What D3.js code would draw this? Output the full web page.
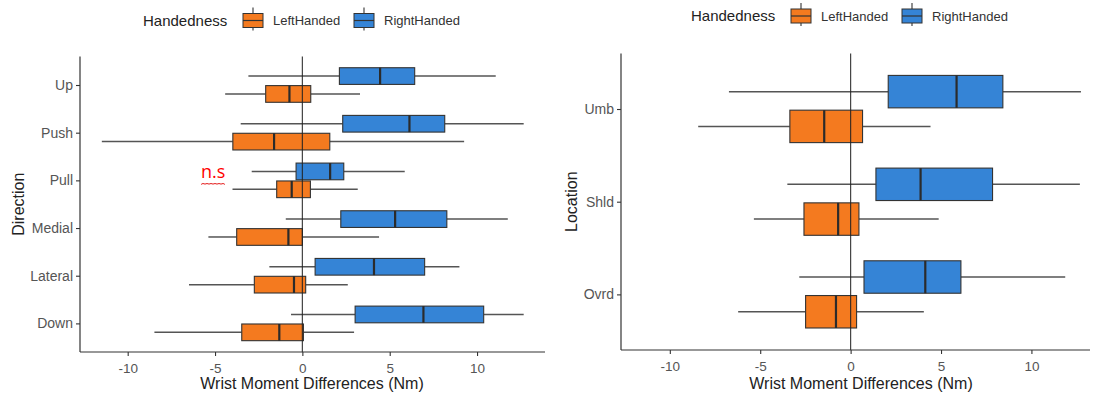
<!DOCTYPE html>
<html>
<head>
<meta charset="utf-8">
<script src="https://cdn.jsdelivr.net/npm/d3@7"></script>
<style>
  html, body { margin: 0; padding: 0; background: #fff; }
  svg { display: block; font-family: "Liberation Sans", Arial, sans-serif; }
</style>
</head>
<body>
<svg id="chart" width="1093" height="396"></svg>
<script>
// Five-number summaries: [lower whisker, Q1, median, Q3, upper whisker]
const directionCategories = ["Up", "Push", "Pull", "Medial", "Lateral", "Down"];
const directionLeft = [
  [-4.42, -2.10, -0.74, 0.48, 3.30],
  [-11.48, -3.98, -1.62, 1.57, 9.26],
  [-4.00, -1.47, -0.61, 0.46, 3.17],
  [-5.38, -3.76, -0.80, 0.00, 4.39],
  [-6.49, -2.75, -0.48, 0.19, 2.60],
  [-8.47, -3.47, -1.32, 0.06, 2.96]
];
const directionRight = [
  [-3.09, 2.12, 4.45, 6.43, 11.07],
  [-3.53, 2.31, 6.13, 8.15, 12.67],
  [-2.90, -0.36, 1.59, 2.37, 5.86],
  [-0.95, 2.20, 5.31, 8.27, 11.76],
  [-1.89, 0.73, 4.10, 7.00, 8.99],
  [-0.65, 3.02, 6.93, 10.38, 12.67]
];

const locationCategories = ["Umb", "Shld", "Ovrd"];
const locationLeft = [
  [-8.43, -3.36, -1.46, 0.66, 4.42],
  [-5.35, -2.58, -0.69, 0.46, 4.87],
  [-6.22, -2.49, -0.81, 0.33, 4.05]
];
const locationRight = [
  [-6.73, 2.08, 5.86, 8.42, 12.74],
  [-3.50, 1.40, 3.87, 7.85, 12.68],
  [-2.84, 0.74, 4.13, 6.10, 11.87]
];

const xTicks = [-10, -5, 0, 5, 10];
const groupNames = ["LeftHanded", "RightHanded"];
const groupColors = ["#F47A1F", "#3584D6"];

const svg = d3.select("#chart");

function drawLegend(g, cx, cy) {
  const leg = g.append("g").attr("transform", `translate(${cx},${cy})`);
  leg.append("text").attr("x", 0).attr("y", 0).attr("dy", "0.35em")
    .attr("font-size", 15).attr("fill", "#222").text("Handedness");
  const offsets = [100, 211];
  groupNames.forEach((name, i) => {
    const kx = offsets[i];
    const key = leg.append("g").attr("transform", `translate(${kx},0)`);
    key.append("line").attr("x1", 10).attr("x2", 10).attr("y1", -13).attr("y2", 10)
      .attr("stroke", "#444").attr("stroke-width", 1.2);
    key.append("rect").attr("x", 0).attr("y", -7).attr("width", 20).attr("height", 14)
      .attr("fill", groupColors[i]).attr("stroke", "#333").attr("stroke-width", 1);
    key.append("line").attr("x1", 0).attr("x2", 20).attr("y1", 0).attr("y2", 0)
      .attr("stroke", "#333").attr("stroke-width", 1.2);
    key.append("text").attr("x", 30).attr("y", 0).attr("dy", "0.35em")
      .attr("font-size", 13).attr("fill", "#333").text(name);
  });
}

function drawPanel(opts) {
  const g = svg.append("g");
  const x = d3.scaleLinear().domain(opts.xDomain).range([opts.left, opts.right]);
  const y = d3.scalePoint().domain(opts.categories)
    .range([opts.top, opts.bottom]).padding(0.6);
  const step = y.step();
  const boxH = step * 0.35;
  const dodge = step * 0.1875;

  // Boxes for each group
  [opts.left_, opts.right_].forEach((series, gi) => {
    const off = gi === 0 ? dodge : -dodge;
    const grp = g.append("g");
    series.forEach((s, ci) => {
      const cy = y(opts.categories[ci]) + off;
      grp.append("line").attr("x1", x(s[0])).attr("x2", x(s[1]))
        .attr("y1", cy).attr("y2", cy).attr("stroke", "#555").attr("stroke-width", 1.5);
      grp.append("line").attr("x1", x(s[3])).attr("x2", x(s[4]))
        .attr("y1", cy).attr("y2", cy).attr("stroke", "#555").attr("stroke-width", 1.5);
      grp.append("rect").attr("x", x(s[1])).attr("y", cy - boxH / 2)
        .attr("width", x(s[3]) - x(s[1])).attr("height", boxH)
        .attr("fill", groupColors[gi]).attr("stroke", "#333").attr("stroke-width", 1.1);
      grp.append("line").attr("x1", x(s[2])).attr("x2", x(s[2]))
        .attr("y1", cy - boxH / 2).attr("y2", cy + boxH / 2)
        .attr("stroke", "#2b2b2b").attr("stroke-width", 2.2);
    });
  });

  // Reference line at zero
  g.append("line").attr("x1", x(0)).attr("x2", x(0))
    .attr("y1", opts.top).attr("y2", opts.bottom)
    .attr("stroke", "#222").attr("stroke-width", 1.2).attr("opacity", 0.85);

  // Axes
  const xAxis = g.append("g").attr("transform", `translate(0,${opts.bottom})`)
    .call(d3.axisBottom(x).tickValues(xTicks).tickFormat(d => String(d))
      .tickSize(4).tickSizeOuter(0));
  xAxis.select(".domain").attr("stroke", "#333").attr("stroke-width", 1.2)
    .attr("d", `M${opts.left},0H${opts.right}`);
  xAxis.selectAll(".tick line").attr("stroke", "#333").attr("stroke-width", 1.1);
  xAxis.selectAll(".tick text").attr("font-size", 13.5).attr("fill", "#555")
    .attr("font-family", "Liberation Sans, Arial, sans-serif").attr("dy", "1.0em");

  const yAxis = g.append("g").attr("transform", `translate(${opts.left},0)`)
    .call(d3.axisLeft(y).tickSize(4).tickSizeOuter(0));
  yAxis.select(".domain").attr("stroke", "#333").attr("stroke-width", 1.2)
    .attr("d", `M0,${opts.top}V${opts.bottom}`);
  yAxis.selectAll(".tick line").attr("stroke", "#333").attr("stroke-width", 1.1);
  yAxis.selectAll(".tick text").attr("font-size", 14).attr("fill", "#555")
    .attr("font-family", "Liberation Sans, Arial, sans-serif").attr("x", -7);

  // Titles
  g.append("text").attr("x", opts.xTitleX).attr("y", 389).attr("text-anchor", "middle")
    .attr("font-size", 16).attr("fill", "#222").text("Wrist Moment Differences (Nm)");
  g.append("text")
    .attr("transform", `translate(${opts.yTitleX},${(opts.top + opts.bottom) / 2}) rotate(-90)`)
    .attr("text-anchor", "middle").attr("font-size", 16).attr("fill", "#222")
    .text(opts.yTitle);

  drawLegend(g, opts.legendX, opts.legendY);
  return { g, x, y };
}

drawPanel({
  categories: directionCategories, left_: directionLeft, right_: directionRight,
  xDomain: [-12.73, 13.89], left: 80, right: 545, top: 56.4, bottom: 352,
  xTitleX: 312, yTitleX: 24, yTitle: "Direction", legendX: 143, legendY: 20.5
});

drawPanel({
  categories: locationCategories, left_: locationLeft, right_: locationRight,
  xDomain: [-12.7, 13.24], left: 621, right: 1090, top: 53.4, bottom: 350,
  xTitleX: 861, yTitleX: 577, yTitle: "Location", legendX: 691, legendY: 16
});

// Non-significance note beside the Pull comparison
const ns = svg.append("g").attr("transform", "translate(201,178)");
ns.append("text").attr("x", 0).attr("y", 0).attr("font-size", 18)
  .attr("font-family", "'Open Sans', 'Liberation Sans', sans-serif")
  .attr("fill", "#FF0000").text("n.s");
ns.append("path").attr("d", d3.line().curve(d3.curveBasis)(
    d3.range(0, 13).map(i => [i * 2, 5 + (i % 2 ? 0 : 1.6)])))
  .attr("fill", "none").attr("stroke", "#E00000").attr("stroke-width", 0.9);
</script>
</body>
</html>
